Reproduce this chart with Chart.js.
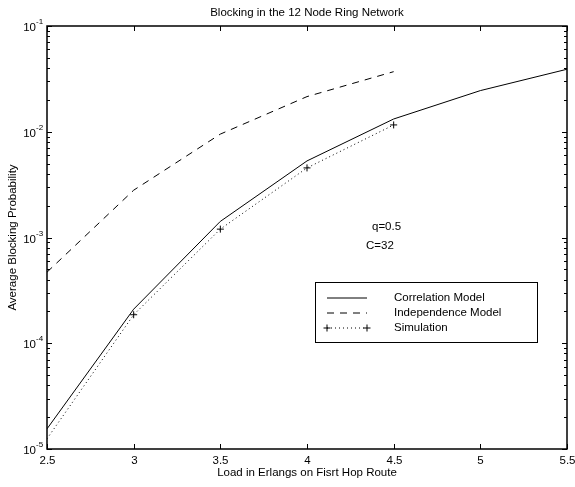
<!DOCTYPE html>
<html>
<head>
<meta charset="utf-8">
<script src="https://cdn.jsdelivr.net/npm/chart.js@4.4.1/dist/chart.umd.min.js"></script>
<style>
  body { margin: 0; background: #fff; }
  canvas { display: block; }
</style>
</head>
<body>
<canvas id="blockingChart" width="575" height="487"></canvas>
<script>
// datos
const loads = [2.5, 3, 3.5, 4, 4.5, 5, 5.5];
const correlation = [1.55e-5, 2.1e-4, 1.42e-3, 5.3e-3, 1.32e-2, 2.45e-2, 3.9e-2];
const independence = [4.7e-4, 2.8e-3, 9.5e-3, 2.15e-2, 3.7e-2];
const simulation = [1.25e-5, 1.86e-4, 1.2e-3, 4.55e-3, 1.16e-2];
const xTicks = [2.5, 3, 3.5, 4, 4.5, 5, 5.5];
const yExponents = [-5, -4, -3, -2, -1];
const legendNames = ['Correlation Model', 'Independence Model', 'Simulation'];
const notes = ['q=0.5', 'C=32'];

const FONT = '"Liberation Sans", Helvetica, Arial, sans-serif';
const TXT = '11.5px ' + FONT;

function pts(values) {
    return values.map((v, i) => ({ x: loads[i], y: v }));
}

function line(ctx, x1, y1, x2, y2) {
    ctx.beginPath();
    ctx.moveTo(x1, y1);
    ctx.lineTo(x2, y2);
    ctx.stroke();
}

function cross(ctx, cx, cy, r) {
    line(ctx, cx - r, cy, cx + r, cy);
    line(ctx, cx, cy - r, cx, cy + r);
}

// ejes estilo matlab: caja, ticks hacia dentro, textos, leyenda
const matlabAxes = {
    id: 'matlabAxes',
    afterDatasetsDraw(chart) {
        const { ctx, chartArea: a, scales: { x, y } } = chart;
        ctx.save();
        ctx.strokeStyle = '#000';
        ctx.fillStyle = '#000';
        ctx.lineWidth = 1;

        // ticks eje x
        ctx.font = TXT;
        ctx.textAlign = 'center';
        ctx.textBaseline = 'middle';
        xTicks.forEach(v => {
            const px = Math.round(x.getPixelForValue(v)) + 0.5;
            line(ctx, px, a.bottom, px, a.bottom - 5);
            line(ctx, px, a.top, px, a.top + 5);
            ctx.fillText(String(v), px, a.bottom + 12);
        });

        // ticks eje y (log)
        yExponents.forEach(e => {
            for (let m = 1; m <= 9; m++) {
                const v = m * Math.pow(10, e);
                if (v > 0.1 + 1e-12) break;
                const py = Math.round(y.getPixelForValue(v)) + 0.5;
                const len = m === 1 ? 5 : 3;
                line(ctx, a.left, py, a.left + len, py);
                line(ctx, a.right, py, a.right - len, py);
                if (m === 1) {
                    ctx.textAlign = 'right';
                    ctx.font = TXT;
                    ctx.fillText('10', 36, py + 1);
                    ctx.textAlign = 'left';
                    ctx.font = '8px ' + FONT;
                    ctx.fillText('-' + Math.abs(e), 36, py - 5);
                }
            }
        });

        // caja
        ctx.lineWidth = 1.5;
        ctx.strokeRect(a.left, a.top, a.right - a.left, a.bottom - a.top);

        // titulos
        ctx.font = TXT;
        ctx.textAlign = 'center';
        ctx.textBaseline = 'middle';
        const cx = (a.left + a.right) / 2;
        ctx.fillText('Blocking in the 12 Node Ring Network', cx, 13);
        ctx.fillText('Load in Erlangs on Fisrt Hop Route', cx, 473);
        ctx.save();
        ctx.translate(13, (a.top + a.bottom) / 2);
        ctx.rotate(-Math.PI / 2);
        ctx.fillText('Average Blocking Probability', 0, 0);
        ctx.restore();

        // anotaciones
        ctx.textAlign = 'left';
        ctx.fillText(notes[0], 372, 227);
        ctx.fillText(notes[1], 366, 246);

        // leyenda
        ctx.lineWidth = 1;
        ctx.fillStyle = '#fff';
        ctx.fillRect(315, 282, 222, 60);
        ctx.strokeRect(315.5, 282.5, 222, 60);
        ctx.fillStyle = '#000';
        const rows = [298, 313, 328];
        line(ctx, 327, rows[0], 367, rows[0]);
        ctx.setLineDash([7, 6]);
        line(ctx, 327, rows[1], 367, rows[1]);
        ctx.setLineDash([1, 3]);
        line(ctx, 327, rows[2], 367, rows[2]);
        ctx.setLineDash([]);
        cross(ctx, 327, rows[2], 3.5);
        cross(ctx, 367, rows[2], 3.5);
        legendNames.forEach((name, i) => ctx.fillText(name, 394, rows[i]));

        ctx.restore();
    }
};

const ctx = document.getElementById('blockingChart').getContext('2d');
const blockingChart = new Chart(ctx, {
    type: 'line',
    data: {
        datasets: [{
            label: legendNames[0],
            data: pts(correlation),
            borderColor: '#000',
            borderWidth: 1,
            pointRadius: 0,
        },
        {
            label: legendNames[1],
            data: pts(independence),
            borderColor: '#000',
            borderWidth: 1,
            borderDash: [7, 6],
            pointRadius: 0,
        },
        {
            label: legendNames[2],
            data: pts(simulation),
            borderColor: '#000',
            borderWidth: 1,
            borderDash: [1, 3],
            pointStyle: 'cross',
            pointRadius: [0, 3.5, 3.5, 3.5, 3.5],
            pointBorderColor: '#000',
            pointBorderWidth: 1,
        }]
    },
    options: {
        responsive: false,
        animation: false,
        events: [],
        layout: {
            autoPadding: false,
            padding: { left: 47, top: 26, right: 8, bottom: 38 }
        },
        plugins: {
            legend: { display: false },
            title: { display: false },
            tooltip: { enabled: false }
        },
        scales: {
            x: {
                type: 'linear',
                min: 2.5,
                max: 5.5,
                grid: { display: false, drawTicks: false },
                border: { display: false },
                ticks: { display: false }
            },
            y: {
                type: 'logarithmic',
                min: 1e-5,
                max: 1e-1,
                grid: { display: false, drawTicks: false },
                border: { display: false },
                ticks: { display: false }
            }
        }
    },
    plugins: [matlabAxes]
});
</script>
</body>
</html>
